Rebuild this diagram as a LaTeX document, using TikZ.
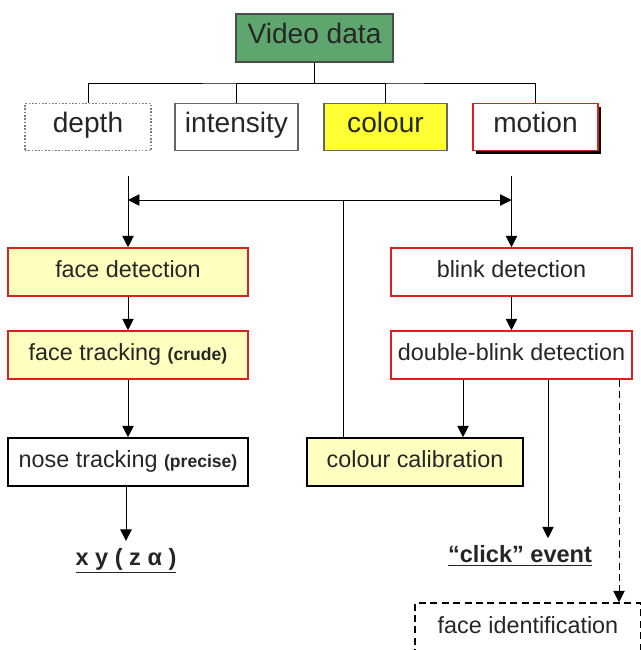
\documentclass[tikz,border=0pt]{standalone}
\usepackage{fontspec}
\setmainfont{Liberation Sans}
\usetikzlibrary{arrows.meta,positioning,shadows}
\definecolor{videogreen}{RGB}{94,166,110}
\definecolor{paleyellow}{RGB}{255,255,192}
\definecolor{brightyellow}{RGB}{255,255,51}
\definecolor{boxred}{RGB}{225,30,30}
\tikzset{
	>={Triangle[length=6.5pt,width=6.5pt]}, % filled arrow heads
	line width=1.25pt,
	x=0.02cm, y=-0.02cm, % one unit is one pixel of the sketch, y pointing down
	every node/.style={inner sep=0pt, text=black!85},
	big/.style={font=\fontsize{16}{18}\selectfont},
	mid/.style={font=\fontsize{13.3}{15}\selectfont},
	box/.style={draw, line width=0.9pt, minimum height=0.96cm, text height=0.8em, text depth=0.2em},
	topbox/.style={box, big, draw=black!60, minimum height=0.94cm, minimum width=2.46cm},
	stepbox/.style={box, mid, draw=boxred, fill=paleyellow, minimum width=4.8cm},
	outlabel/.style={font=\fontsize{13.4}{15}\selectfont\bfseries, inner sep=4pt},
}
\begin{document}
\begin{tikzpicture}
	\useasboundingbox (0,0) rectangle (641,650);
	\clip (0,0) rectangle (641,650);

	% sources
	\node[box, big, draw=black!70, fill=videogreen, minimum width=3.14cm] (video) at (314.5,38) {Video data};
	\node[topbox, densely dotted, draw=black!50, minimum width=2.52cm] (depth) at (88,127) {depth};
	\node[topbox] (intensity) at (236.5,127) {intensity};
	\node[topbox, fill=brightyellow] (colour) at (385.5,127) {colour};
	\node[topbox, draw=boxred, fill=white, minimum width=2.5cm,
		general shadow={fill=black, shadow xshift=0.06cm, shadow yshift=-0.06cm}] (motion) at (535.5,127) {motion};

	% processing
	\node[stepbox] (facedet) at (128,272) {face detection};
	\node[stepbox] (facetrack) at (128,355) {face tracking {\fontsize{10}{12}\selectfont\bfseries(crude)}};
	\node[box, mid, draw=black, fill=white, minimum width=4.8cm] (nose) at (128,462) {nose tracking {\fontsize{10}{12}\selectfont\bfseries(precise)}};
	\node[outlabel] (xy) at (126,561) {\underline{x y ( z α )}};

	\node[box, mid, draw=boxred, fill=white, minimum width=4.82cm] (blink) at (511.5,272) {blink detection};
	\node[box, mid, draw=boxred, fill=white, minimum width=4.82cm] (dblink) at (511.5,355) {double-blink detection};
	\node[box, mid, draw=black, fill=paleyellow, minimum width=4.32cm] (colcal) at (415,462) {colour calibration};
	\node[outlabel] (click) at (520,556) {\underline{“click” event}};
	\node[box, mid, draw=black, dash pattern=on 4pt off 2.5pt, minimum width=4.52cm, minimum height=1cm] (faceid) at (528,628) {face identification};

	% tree from the video data
	\coordinate (bus) at (314.5,83);
	\draw (video.south) -- (bus);
	\draw (depth.north) |- (bus) -| (motion.north);
	\draw (intensity.north) |- (bus);
	\draw (colour.north) |- (bus);

	% hub between the two branches
	\coordinate (leftTop) at (128,176);
	\coordinate (rightTop) at (511.5,176);
	\coordinate (hubL) at (128,200);
	\coordinate (hubR) at (511.5,200);
	\coordinate (hubC) at (343,200);
	\draw[->] (leftTop) -- (facedet.north);
	\draw[->] (rightTop) -- (blink.north);
	\draw[<->] (hubL) -- (hubR);
	\draw (hubC) -- (colcal.north -| hubC);

	% left branch
	\draw[->] (facedet) -- (facetrack);
	\draw[->] (facetrack) -- (nose);
	\draw[->] (nose.south -| xy.north) -- (xy.north);

	% right branch
	\coordinate (calX) at (463,0);
	\coordinate (clickX) at (548,0);
	\coordinate (idX) at (619,0);
	\draw[->] (blink) -- (dblink);
	\draw[->] (dblink.south -| calX) -- (colcal.north -| calX);
	\draw[->] (dblink.south -| clickX) -- (click.north -| clickX);
	\draw[->, dash pattern=on 4pt off 2.5pt] (dblink.south -| idX) -- (faceid.north -| idX);
\end{tikzpicture}
\end{document}
